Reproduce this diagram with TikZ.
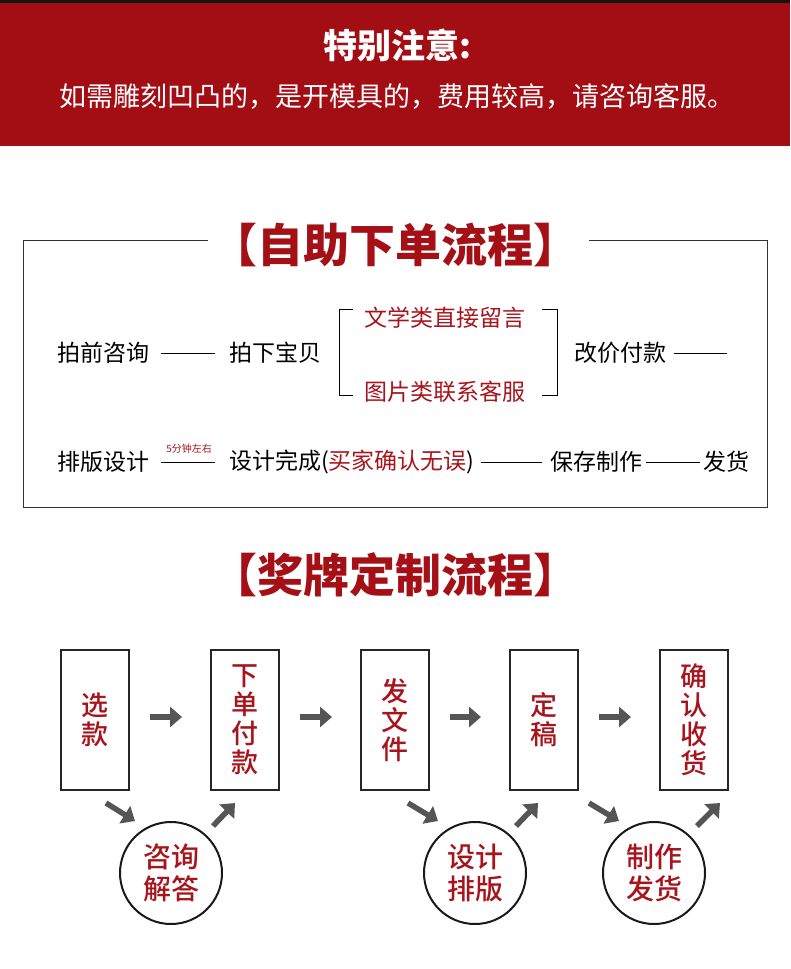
\documentclass[tikz,border=0pt]{standalone}
\usepackage{fontspec}
\setmainfont{Noto Sans CJK SC}
\newfontfamily\heavycjk{Noto Sans CJK SC Black}
\newfontfamily\mediumcjk{Noto Sans CJK SC Medium}
\usetikzlibrary{arrows.meta, positioning}
\definecolor{bandred}{HTML}{A30E15}
\definecolor{titlered}{HTML}{A50F16}
\definecolor{textred}{HTML}{A8141C}
\definecolor{arrowgray}{HTML}{555555}
\definecolor{framegray}{HTML}{333333}

\begin{document}
\begin{tikzpicture}[x=1pt, y=-1pt,
    rowtext/.style={font=\fontsize{23}{26}\selectfont, inner sep=0pt, anchor=west},
    heading/.style={font=\fontsize{46}{50}\selectfont\heavycjk, text=titlered, inner sep=0pt},
    stepbox/.style={draw=black!85, line width=2pt, minimum width=68pt, minimum height=140pt, inner sep=0pt, text=textred, align=center, font=\fontsize{27}{29}\selectfont\mediumcjk},
    talkcircle/.style={circle, draw=black!90, line width=2pt, minimum size=102pt, inner sep=0pt, text=textred, align=center, font=\fontsize{28}{32}\selectfont\mediumcjk},
    flowarrow/.style={draw=arrowgray, line width=5.5pt, -{Triangle[length=12pt, width=20pt]}},
    rowline/.style={draw=black, line width=0.8pt}]
    \useasboundingbox (0,0) rectangle (790,969);

    % notice band
    \fill[black!92] (0,0) rectangle (790,3);
    \fill[bandred] (0,3) rectangle (790,146);
    \node[font=\fontsize{34}{38}\selectfont\bfseries, text=white] (notice) at (397,45) {特别注意:};
    \node[font=\fontsize{27}{30}\selectfont, text=white] (noticetext) at (397,96) {如需雕刻凹凸的，是开模具的，费用较高，请咨询客服。};

    % self-service ordering
    \node[heading] (selfhead) at (395,245) {【自助下单流程】};
    \draw[framegray, line width=1pt] (208,240) -- (23,240) -- (23,507) -- (767,507) -- (767,240) -- (589,240);

    \node[rowtext] (zixun) at (57,353) {拍前咨询};
    \node[rowtext] (paixia) at (229,353) {拍下宝贝};
    \node[rowtext, text=textred] (wenzi) at (364,318) {文学类直接留言};
    \node[rowtext, text=textred] (tupian) at (364,392) {图片类联系客服};
    \node[rowtext] (gaijia) at (574,353) {改价付款};
    \coordinate (rowend) at (727,353);
    \draw[rowline, shorten <=12pt, shorten >=14pt] (zixun) -- (paixia);
    \draw[rowline, shorten <=8pt] (gaijia) -- (rowend);
    \draw[rowline] (353,309) -- (339,309) -- (339,395) -- (353,395);
    \draw[rowline] (542,309) -- (557,309) -- (557,395) -- (542,395);

    \node[rowtext] (paiban) at (57,462) {排版设计};
    \node[rowtext] (wancheng) at (229,462) {设计完成(\textcolor{textred}{买家确认无误})};
    \node[rowtext] (zhizuo) at (550,462) {保存制作};
    \node[rowtext] (fahuo) at (703,462) {发货};
    \draw[rowline, shorten <=12pt, shorten >=14pt] (paiban) -- node[above=8pt, inner sep=0pt, font=\fontsize{10}{12}\selectfont, text=textred] (fenzhong) {5分钟左右} (wancheng);
    \draw[rowline, shorten <=6pt, shorten >=8pt] (wancheng) -- (zhizuo);
    \draw[rowline, shorten <=4pt, shorten >=3pt] (zhizuo) -- (fahuo);

    % medal ordering
    \node[heading] (medalhead) at (395,575) {【奖牌定制流程】};

    \foreach \i/\x/\words in {1/95/{选\\款}, 2/245/{下\\单\\付\\款}, 3/395/{发\\文\\件}, 4/544/{定\\稿}, 5/694/{确\\认\\收\\货}}
      \node[stepbox] (b\i) at (\x,720) {\words};
    \foreach \i/\j in {1/2, 2/3, 3/4, 4/5}
      \draw[flowarrow, shorten <=20pt, shorten >=28pt] ([yshift=3pt]b\i.east) -- ([yshift=3pt]b\j.west);

    \node[talkcircle] (c1) at (171,873) {咨询\\解答};
    \node[talkcircle] (c2) at (475,873) {设计\\排版};
    \node[talkcircle] (c3) at (654,873) {制作\\发货};

    \foreach \from/\fx/\to/\tx in {b1/11/c1/-36, b3/13/c2/-37, b4/45/c3/-35}
      \draw[flowarrow] ([xshift=\fx pt, yshift=-12pt]\from.south) -- ([xshift=\tx pt]\to.north);
    \foreach \from/\fx/\to/\tx in {c1/42/b2/-10, c2/41/b4/-6, c3/43/b5/26}
      \draw[flowarrow] ([xshift=\fx pt, yshift=-5pt]\from.north) -- ([xshift=\tx pt, yshift=-12pt]\to.south);
\end{tikzpicture}
\end{document}
